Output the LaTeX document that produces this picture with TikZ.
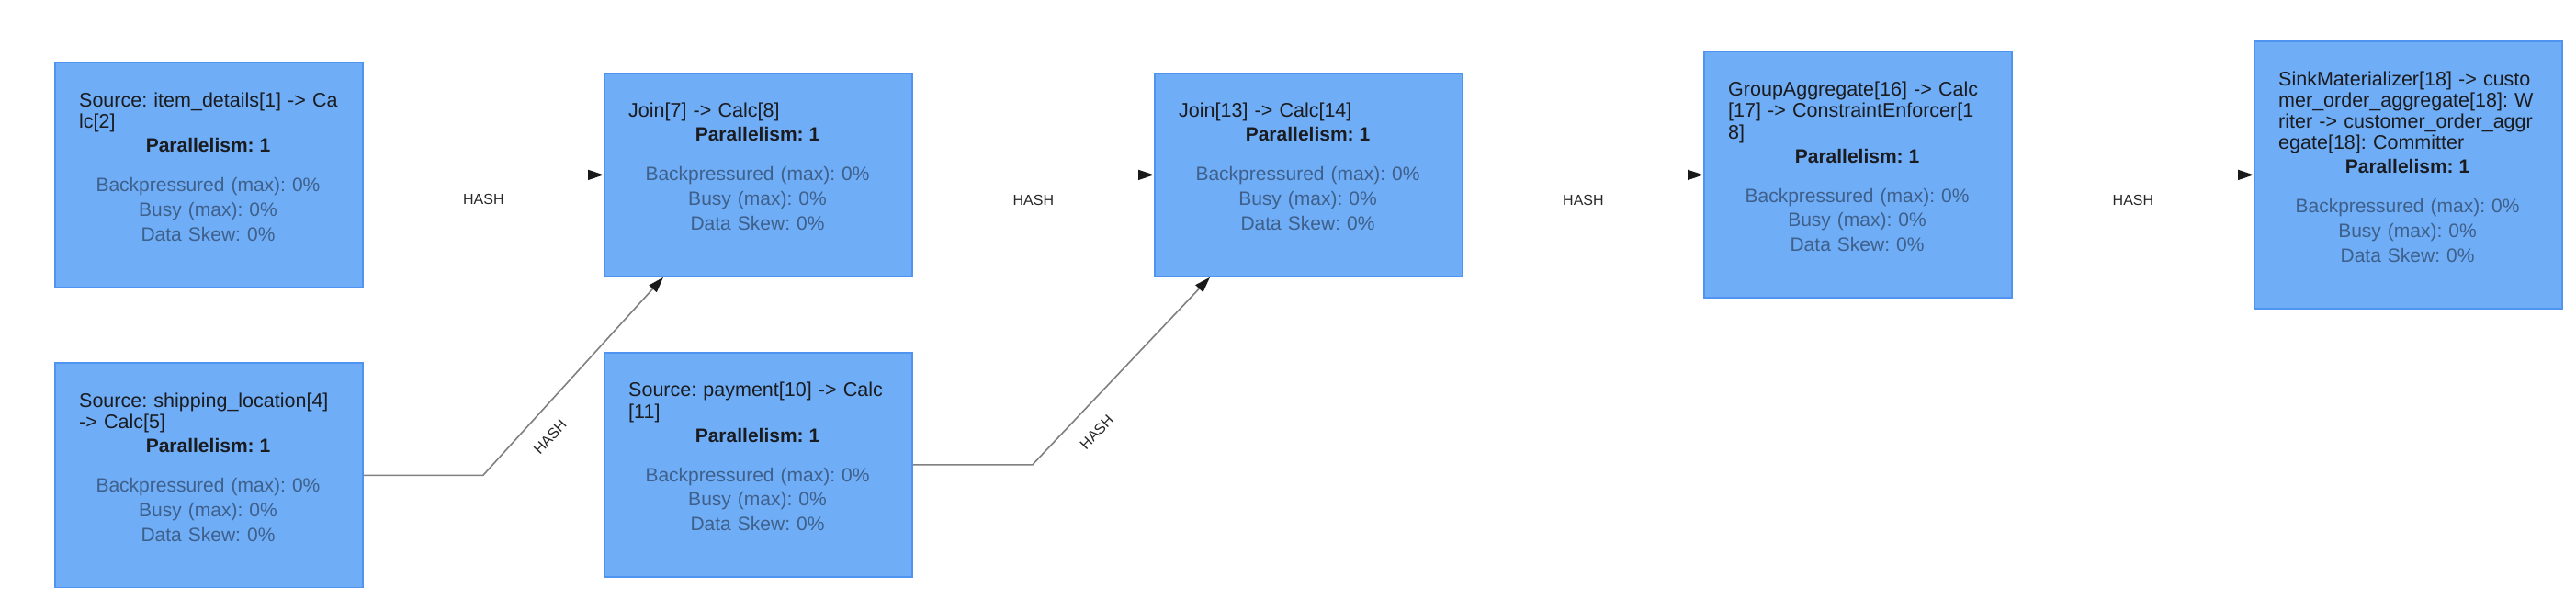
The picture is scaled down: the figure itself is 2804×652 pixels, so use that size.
\documentclass[tikz,border=0pt]{standalone}
\usepackage{fontspec}
\setmainfont{Liberation Sans}
\frenchspacing
\usetikzlibrary{arrows.meta,calc}
\definecolor{opfill}{RGB}{111,173,247}
\definecolor{opborder}{RGB}{78,148,240}
\definecolor{optext}{RGB}{26,28,32}
\definecolor{opstat}{RGB}{62,96,138}
\definecolor{edgegray}{RGB}{128,128,128}
\definecolor{labgray}{RGB}{40,40,40}
\tikzset{
  opbox/.style={rectangle, draw=opborder, fill=opfill, line width=1.8pt, minimum width=335pt, inner sep=0pt},
  optitle/.style={text width=283pt, align=left, inner sep=0pt, text=optext, font=\frenchspacing\fontsize{21.5}{23.33}\selectfont},
  oppar/.style={inner sep=0pt, text=optext, font=\bfseries\fontsize{21}{24}\selectfont},
  opstats/.style={text width=290pt, align=center, inner sep=0pt, text=opstat, font=\frenchspacing\fontsize{21}{26.67}\selectfont},
  edge/.style={draw=edgegray, line width=1.6pt, -{Triangle[length=17pt,width=11pt,color=black!90]}},
  hashlab/.style={inner sep=0pt, text=labgray, font=\fontsize{16}{19}\selectfont},
}
% #1 name, #2 left x, #3 centre y, #4 number of title lines, #5 title
\newcommand{\flinkop}[5]{%
  \pgfmathsetmacro{\opH}{221+23.33*(#4-1)}%
  \pgfmathsetmacro{\opT}{#3-\opH/2}%
  \pgfmathsetmacro{\opB}{\opT+49}%
  \pgfmathsetmacro{\opP}{\opB+23.33*(#4-1)+26}%
  \pgfmathsetmacro{\opS}{\opP+43}%
  \node[opbox, minimum height=\opH pt, anchor=north west] (#1) at (#2,\opT) {};
  \node[optitle, anchor=base west] (#1-t) at (#2+27,\opB) {#5};
  \node[oppar, anchor=base] (#1-p) at (#2+167.5,\opP) {Parallelism: 1};
  \node[opstats, anchor=base] (#1-s) at (#2+167.5,\opS) {Backpressured (max): 0\%\\Busy (max): 0\%\\Data Skew: 0\%};
}
\begin{document}
\begin{tikzpicture}[x=1pt,y=-1pt]
\fill[white] (0,0) rectangle (2804,652);
\useasboundingbox (0,0) rectangle (2804,652);

\flinkop{b1}{59}{189.5}{2}{Source: item\_details[1] -> Ca\\lc[2]}
\flinkop{ship}{59}{516.5}{2}{Source: shipping\_location[4]\\-> Calc[5]}
\flinkop{j7}{657}{189.5}{1}{Join[7] -> Calc[8]}
\flinkop{pay}{657}{505}{2}{Source: payment[10] -> Calc\\{}[11]}
\flinkop{j13}{1256}{189.5}{1}{Join[13] -> Calc[14]}
\flinkop{ga}{1854}{189.5}{3}{GroupAggregate[16] -> Calc\\{}[17] -> ConstraintEnforcer[1\\8]}
\flinkop{sink}{2453}{189.5}{4}{SinkMaterializer[18] -> custo\\mer\_order\_aggregate[18]: W\\riter -> customer\_order\_aggr\\egate[18]: Committer}

\draw[edge] (b1.east) -- (j7.west) node[hashlab, midway, yshift=-27pt] (l1) {HASH};
\draw[edge] (ship.east) -- ++(130,0) coordinate (bend1) -- ($(j7.south west)+(65,0)$);
\node[hashlab, rotate=47.5] (l2) at (598.7,475.7) {HASH};
\draw[edge] (j7.east) -- (j13.west) node[hashlab, midway, yshift=-28pt] (l3) {HASH};
\draw[edge] (pay.east) -- ++(130,0) coordinate (bend2) -- ($(j13.south west)+(61,0)$);
\node[hashlab, rotate=46.4] (l4) at (1193.7,470.3) {HASH};
\draw[edge] (j13.east) -- (ga.west) node[hashlab, midway, yshift=-28pt] (l5) {HASH};
\draw[edge] (ga.east) -- (sink.west) node[hashlab, midway, yshift=-28pt] (l6) {HASH};
\end{tikzpicture}
\end{document}
